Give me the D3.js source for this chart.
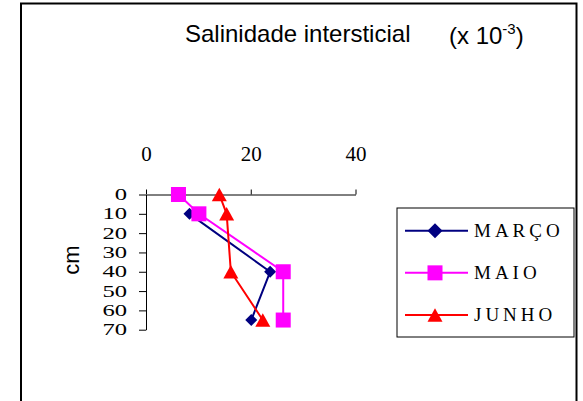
<!DOCTYPE html>
<html><head><meta charset="utf-8">
<script src="https://cdn.jsdelivr.net/npm/d3@7"></script>
<style>
html,body{margin:0;padding:0;background:#fff;}
svg{display:block;}
</style></head>
<body>
<svg id="chart" width="583" height="401"></svg>
<script>
// ---- data ----
const marcoDepths = [10, 40, 65];
const marcoValues = [8.3, 23.7, 20.1];
const maioDepths = [0, 10, 40, 65];
const maioValues = [6.2, 10.1, 26.2, 26.2];
const junhoDepths = [0, 10, 40, 65];
const junhoValues = [14.0, 15.4, 16.2, 22.3];
const xTicks = [0, 20, 40];
const yTicks = [0, 10, 20, 30, 40, 50, 60, 70];
const seriesNames = ["MARÇO", "MAIO", "JUNHO"];
const seriesColors = ["#000080", "#FF00FF", "#FF0000"];
const seriesSymbols = ["diamond", "square", "triangle"];

const series = [
  {name: seriesNames[0], color: seriesColors[0], sym: seriesSymbols[0], pts: marcoDepths.map((d,i)=>({d, v: marcoValues[i]}))},
  {name: seriesNames[1], color: seriesColors[1], sym: seriesSymbols[1], pts: maioDepths.map((d,i)=>({d, v: maioValues[i]}))},
  {name: seriesNames[2], color: seriesColors[2], sym: seriesSymbols[2], pts: junhoDepths.map((d,i)=>({d, v: junhoValues[i]}))}
];

const serifFont = "'Liberation Serif', 'Times New Roman', serif";
const sansFont = "'Liberation Sans', Arial, sans-serif";

const svg = d3.select("#chart");

// outer frame
svg.append("rect").attr("x", 21).attr("y", 3.5).attr("width", 555.5).attr("height", 430)
  .attr("fill", "none").attr("stroke", "#000").attr("stroke-width", 2);

// title
svg.append("text").attr("x", 185).attr("y", 42)
  .attr("font-family", sansFont).attr("font-size", 24).attr("fill", "#000")
  .text("Salinidade intersticial");
const unit = svg.append("text").attr("x", 449).attr("y", 44)
  .attr("font-family", sansFont).attr("font-size", 24).attr("fill", "#000");
unit.append("tspan").text("(x 10");
unit.append("tspan").attr("font-size", 15).attr("dy", -10).text("-3");
unit.append("tspan").attr("dy", 10).text(")");

// scales
const x = d3.scaleLinear().domain([0, 40]).range([146, 355.5]);
const y = d3.scaleLinear().domain([0, 70]).range([194.5, 329.7]);

// x axis (top, ticks upward)
const xAxis = svg.append("g").attr("transform", `translate(0,${y(0)})`)
  .call(d3.axisTop(x).tickValues(xTicks).tickSize(5).tickSizeOuter(0).tickPadding(28.5).tickFormat(d3.format("d")));
xAxis.selectAll("path,line").attr("stroke", "#000").attr("stroke-width", 1);
xAxis.selectAll("text").attr("font-family", serifFont).attr("font-size", 21).attr("fill", "#000");

// y axis
const yAxis = svg.append("g").attr("transform", `translate(${x(0)},0)`)
  .call(d3.axisLeft(y).tickValues(yTicks).tickSize(7).tickSizeOuter(0).tickPadding(12).tickFormat(d3.format("d")));
yAxis.selectAll("path,line").attr("stroke", "#000").attr("stroke-width", 1);
const yStretch = 1.45;
yAxis.selectAll("text").attr("font-family", serifFont).attr("font-size", 17).attr("fill", "#000")
  .attr("dy", "0.3em")
  .attr("x", -19 / yStretch)
  .attr("transform", `scale(${yStretch},1)`);

// y label
svg.append("text").attr("transform", "translate(79,260) rotate(-90)")
  .attr("text-anchor", "middle")
  .attr("font-family", sansFont).attr("font-size", 22).attr("fill", "#000")
  .text("cm");

// symbols
function drawSymbol(g, sym, color, cx, cy, s) {
  if (sym === "diamond") {
    g.append("path").attr("d", `M${cx},${cy-s/2}L${cx+s/2},${cy}L${cx},${cy+s/2}L${cx-s/2},${cy}Z`).attr("fill", color);
  } else if (sym === "square") {
    g.append("rect").attr("x", cx - s/2).attr("y", cy - s/2).attr("width", s).attr("height", s).attr("fill", color);
  } else {
    const h = s * 0.9;
    g.append("path").attr("d", `M${cx},${cy-h/2}L${cx+s/2},${cy+h/2}L${cx-s/2},${cy+h/2}Z`).attr("fill", color);
  }
}

const line = d3.line().x(p => x(p.v)).y(p => y(p.d));
const plot = svg.append("g");
series.forEach(s => {
  plot.append("path").datum(s.pts).attr("d", line).attr("fill", "none")
    .attr("stroke", s.color).attr("stroke-width", 2);
});
series.forEach(s => {
  const size = s.sym === "diamond" ? 12 : 15;
  s.pts.forEach(p => drawSymbol(plot, s.sym, s.color, x(p.v), y(p.d), size));
});

// legend
const lg = svg.append("g");
lg.append("rect").attr("x", 397).attr("y", 208).attr("width", 177).attr("height", 129)
  .attr("fill", "#fff").attr("stroke", "#000").attr("stroke-width", 1);
const legY = d3.scalePoint().domain(seriesNames).range([230.7, 315]);
series.forEach(s => {
  const cy = legY(s.name);
  lg.append("line").attr("x1", 405).attr("x2", 468).attr("y1", cy).attr("y2", cy)
    .attr("stroke", s.color).attr("stroke-width", 2);
  drawSymbol(lg, s.sym, s.color, 435, cy, 15);
  lg.append("text").attr("x", 474).attr("y", cy + 6)
    .attr("font-family", serifFont).attr("font-size", 19)
    .attr("letter-spacing", 4).attr("fill", "#000").text(s.name);
});
</script>
</body></html>
